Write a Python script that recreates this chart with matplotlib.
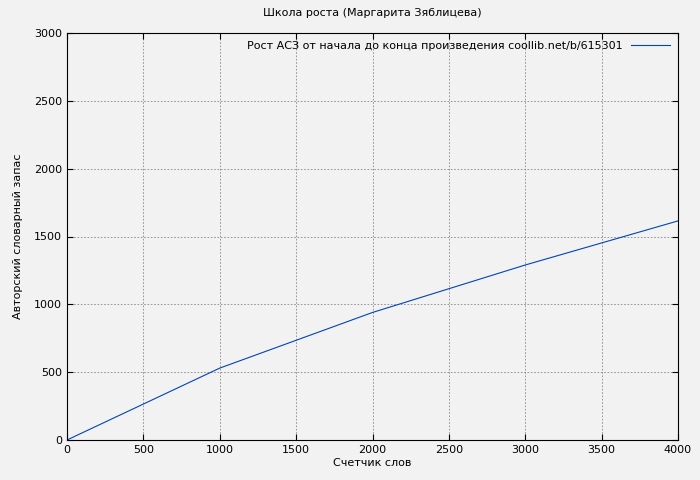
import matplotlib
matplotlib.use("Agg")
import matplotlib.pyplot as plt

words = [0, 1000, 2000, 3000, 4000]
vocab = [0, 530, 940, 1290, 1615]
title = "Школа роста (Маргарита Зяблицева)"
label = "Рост АСЗ от начала до конца произведения coollib.net/b/615301"

plt.rcParams["font.size"] = 8
fig = plt.figure(figsize=(7, 4.8), dpi=100, facecolor="#f2f2f2")
ax = fig.add_axes([67/700, 40/480, 611/700, 407/480])
ax.set_facecolor("#f2f2f2")
ax.plot(words, vocab, color="#0044bb", lw=0.8, label=label)
ax.set_xlim(0, 4000)
ax.set_ylim(0, 3000)
ax.set_xticks(range(0, 4001, 500))
ax.set_yticks(range(0, 3001, 500))
ax.grid(True, color="#888888", linestyle=(0, (2, 2)), lw=0.6)
ax.tick_params(direction="in", top=True, right=True, length=4)
ax.set_xlabel("Счетчик слов", labelpad=2)
ax.set_ylabel("Авторский словарный запас", labelpad=8)
ax.set_title(title, fontsize=8, pad=12)
leg = ax.legend(loc="upper right", frameon=False, markerfirst=False,
                handlelength=3.5, borderaxespad=0.3)
plt.savefig("out.png", dpi=100, facecolor=fig.get_facecolor())
